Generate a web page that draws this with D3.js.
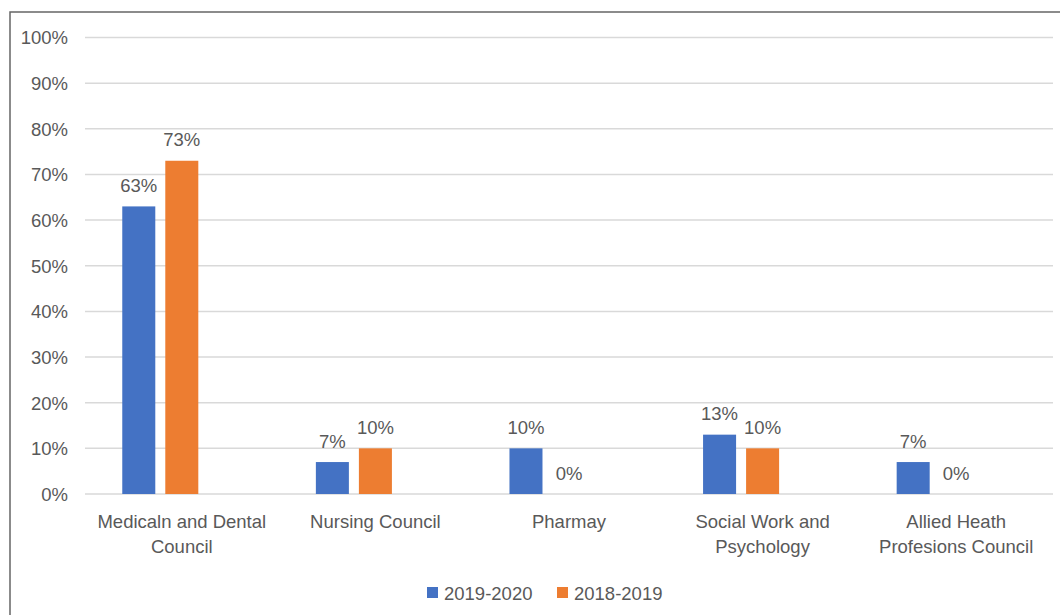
<!DOCTYPE html>
<html><head><meta charset="utf-8">
<script src="https://cdn.jsdelivr.net/npm/d3@7"></script>
<style>
body{margin:0;background:#fff;}
svg{display:block;}
text{font-family:"Liberation Sans",Arial,sans-serif;fill:#595959;}
</style></head>
<body>
<svg id="chart" width="1060" height="615"></svg>
<script>
const categories = [["Medicaln and Dental","Council"],["Nursing Council"],["Pharmay"],["Social Work and","Psychology"],["Allied Heath","Profesions Council"]];
const seriesNames = ["2019-2020","2018-2019"];
const series2019_2020 = [63,7,10,13,7];
const series2018_2019 = [73,10,0,10,0];
const tickValues = [0,10,20,30,40,50,60,70,80,90,100];
const tickLabels = ["0%","10%","20%","30%","40%","50%","60%","70%","80%","90%","100%"];
const colors = ["#4472C4","#ED7D31"];

(function(){
const svg = d3.select("#chart");
const fs = 18.5;

// chart border
svg.append("rect").attr("x",10).attr("y",12).attr("width",1070).attr("height",620)
  .attr("fill","none").attr("stroke","#666").attr("stroke-width",1.5);

const pLeft = 85, pRight = 1053, pTop = 37.5, pBottom = 494;
const y = d3.scaleLinear().domain([0,100]).range([pBottom, pTop]);
const x0 = d3.scaleBand().domain(d3.range(categories.length)).range([pLeft,pRight]).paddingInner(0.385).paddingOuter(0.1925);
const x1 = d3.scaleBand().domain([0,1,2]).range([0,x0.bandwidth()]).paddingInner(0.2326).paddingOuter(0);

// gridlines
svg.append("g").selectAll("line").data(tickValues).join("line")
  .attr("x1",pLeft).attr("x2",pRight).attr("y1",d=>y(d)).attr("y2",d=>y(d))
  .attr("stroke","#d9d9d9").attr("stroke-width",1.5);

// y labels
const yAxis = d3.axisLeft(y).tickValues(tickValues).tickFormat((d,i)=>tickLabels[i]).tickSize(0).tickPadding(17);
const gy = svg.append("g").attr("transform",`translate(${pLeft},0)`).call(yAxis);
gy.select(".domain").remove();
gy.selectAll("text").attr("font-size",fs).style("font-family",'"Liberation Sans",Arial,sans-serif').attr("fill","#595959").attr("dy","0.35em");

const allSeries = [series2019_2020, series2018_2019];
allSeries.forEach((vals,si)=>{
  const g = svg.append("g");
  g.selectAll("rect").data(vals).join("rect")
    .attr("x",(d,i)=>x0(i)+x1(si)).attr("width",x1.bandwidth())
    .attr("y",d=>y(d)).attr("height",d=>y(0)-y(d)).attr("fill",colors[si]);
  g.selectAll("text").data(vals).join("text")
    .attr("x",(d,i)=>x0(i)+x1(si)+x1.bandwidth()/2).attr("y",d=>y(d)-14.5)
    .attr("text-anchor","middle").attr("font-size",fs).text(d=>d+"%");
});

// category labels
const cg = svg.append("g");
categories.forEach((lines,i)=>{
  const cx = x0(i)+x0.bandwidth()/2;
  const t = cg.append("text").attr("x",cx).attr("y",528)
    .attr("text-anchor","middle").attr("font-size",fs);
  lines.forEach((l,j)=>{
    t.append("tspan").attr("x",cx).attr("y",528+25*j).text(l);
  });
});

// legend
const legendX = [427,557];
seriesNames.forEach((n,i)=>{
  svg.append("rect").attr("x",legendX[i]).attr("y",587).attr("width",11).attr("height",11).attr("fill",colors[i]);
  svg.append("text").attr("x",legendX[i]+17).attr("y",599.5).attr("font-size",fs).text(n);
});
})();
</script>
</body></html>
